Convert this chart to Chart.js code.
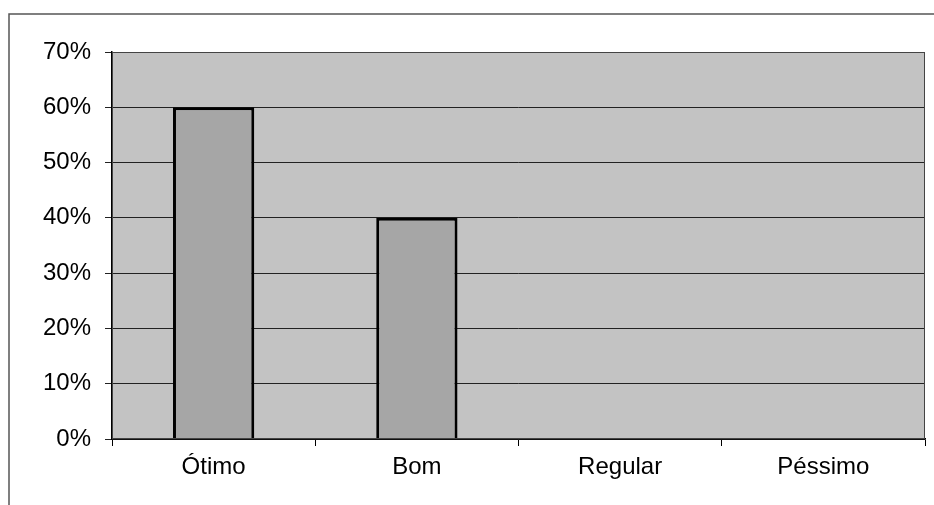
<!DOCTYPE html>
<html>
<head>
<meta charset="utf-8">
<script src="https://cdn.jsdelivr.net/npm/chart.js@4/dist/chart.umd.min.js"></script>
<style>
  html, body { margin: 0; padding: 0; background: #fff; }
  #wrap { width: 934px; height: 505px; }
</style>
</head>
<body>
<div id="wrap"><canvas id="chart" width="934" height="505"></canvas></div>
<script>
const categories = ['Ótimo', 'Bom', 'Regular', 'Péssimo'];
const percentValues = [60, 40, 0, 0];
const yTicks = [0, 10, 20, 30, 40, 50, 60, 70];

// fundo cinza da área do gráfico + moldura externa
const plotBackground = {
	id: 'plotBackground',
	beforeDraw(chart) {
		const { ctx, chartArea: a } = chart;
		ctx.save();
		ctx.fillStyle = '#c3c3c3';
		ctx.fillRect(a.left, a.top, a.right - a.left, a.bottom - a.top);
		ctx.strokeStyle = '#555';
		ctx.lineWidth = 1.5;
		ctx.beginPath();
		ctx.moveTo(9, 505);
		ctx.lineTo(9, 14);
		ctx.lineTo(934, 14);
		ctx.stroke();
		ctx.restore();
	},
	afterDatasetsDraw(chart) {
		const { ctx, chartArea: a } = chart;
		ctx.save();
		ctx.strokeStyle = '#444';
		ctx.lineWidth = 1;
		ctx.strokeRect(a.left + 0.5, a.top + 0.5, a.right - a.left - 1, a.bottom - a.top - 1);
		ctx.restore();
	}
};

const canvas = document.getElementById('chart');

new Chart(canvas, {
	type: 'bar',
	data: {
		labels: categories,
		datasets: [{
			data: percentValues,
			backgroundColor: '#a6a6a6',
			borderColor: '#000',
			borderWidth: 3,
			borderSkipped: 'bottom',
			barPercentage: 0.4,
			categoryPercentage: 1
		}]
	},
	options: {
		responsive: false,
		animation: false,
		layout: { padding: { top: 52, right: 9, left: 0, bottom: 0 } },
		plugins: {
			legend: { display: false },
			tooltip: { enabled: false }
		},
		scales: {
			x: {
				grid: { drawOnChartArea: false, drawTicks: true, tickLength: 7, color: '#000', offset: true },
				border: { display: true, color: '#000', width: 1.5 },
				ticks: {
					color: '#000',
					padding: 7,
					maxRotation: 0,
					font: { family: '"Liberation Sans", Arial, sans-serif', size: 24 }
				},
				afterFit(scale) { scale.height = 66; }
			},
			y: {
				min: 0,
				max: 70,
				afterBuildTicks(scale) { scale.ticks = yTicks.map(v => ({ value: v })); },
				grid: { color: '#222', lineWidth: 1, tickLength: 7, drawTicks: true },
				border: { display: true, color: '#000', width: 1.5 },
				ticks: {
					color: '#000',
					padding: 14,
					font: { family: '"Liberation Sans", Arial, sans-serif', size: 24 },
					callback: v => v + '%'
				},
				afterFit(scale) { scale.width = 112; }
			}
		}
	},
	plugins: [plotBackground]
});
</script>
</body>
</html>
